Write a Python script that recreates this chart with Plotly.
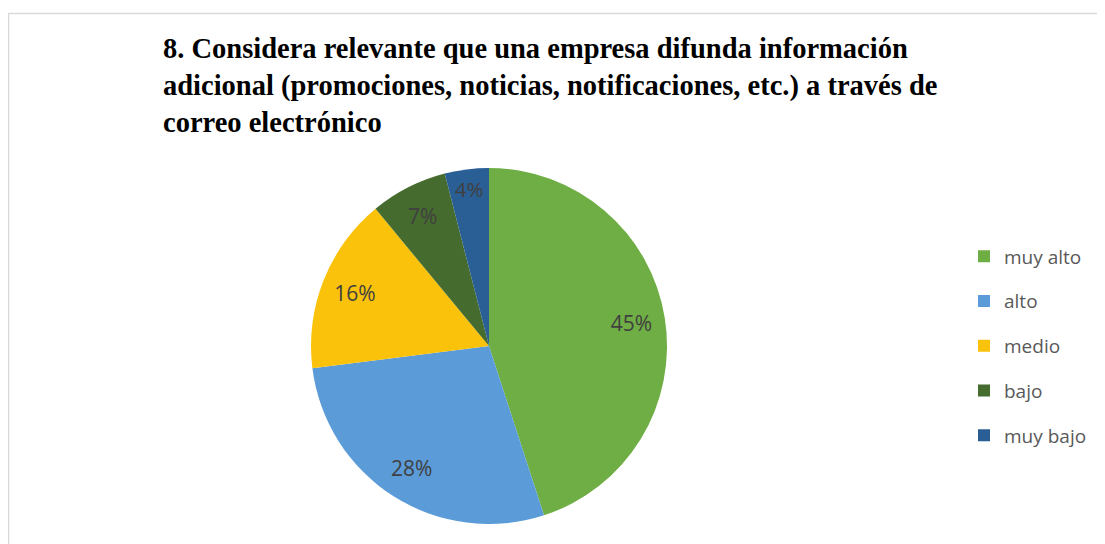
import plotly.graph_objects as go

# survey answers (percent of respondents)
categories = ["muy alto", "alto", "medio", "bajo", "muy bajo"]
values = [45, 28, 16, 7, 4]
colors = ["#6FAE45", "#5A9BD8", "#FAC20A", "#456C2E", "#2A5F95"]

title = (
    "<b>8. Considera relevante que una empresa difunda información<br>"
    "adicional (promociones, noticias, notificaciones, etc.) a través de<br>"
    "correo electrónico</b>"
)

W, H = 1105, 544
OFF = 8  # page body margin shifts the whole figure by 8px

def px_x(x):
    return (x - OFF) / W

def px_y(y):
    return 1 - (y - OFF) / H

pie_domain = dict(x=[px_x(311), px_x(667)], y=[px_y(524), px_y(168)])
label_font = dict(family="Open Sans, sans-serif", size=21, color="#404040")

fig = go.Figure()

# the coloured pie
fig.add_trace(
    go.Pie(
        labels=categories,
        values=values,
        sort=False,
        direction="clockwise",
        rotation=0,
        marker=dict(colors=colors, line=dict(width=0)),
        textinfo="none",
        domain=pie_domain,
        showlegend=False,
        hoverinfo="label+percent",
    )
)

# transparent ring on top, only to carry the percentage labels further out
fig.add_trace(
    go.Pie(
        labels=categories,
        values=values,
        sort=False,
        direction="clockwise",
        rotation=0,
        hole=0.62,
        marker=dict(colors=["rgba(0,0,0,0)"] * len(values), line=dict(width=0)),
        textinfo="percent",
        textposition="inside",
        insidetextorientation="horizontal",
        textfont=label_font,
        domain=pie_domain,
        showlegend=False,
        hoverinfo="skip",
    )
)

# legend entries (one group each so the gap between them can be set)
for name, c in zip(categories, colors):
    fig.add_trace(
        go.Scatter(
            x=[None],
            y=[None],
            mode="markers",
            name=name,
            legendgroup=name,
            marker=dict(symbol="square", size=13, color=c),
        )
    )

fig.update_layout(
    width=W,
    height=H,
    margin=dict(l=0, r=0, t=0, b=0),
    paper_bgcolor="white",
    plot_bgcolor="white",
    xaxis=dict(visible=False),
    yaxis=dict(visible=False),
    title=dict(
        text=title,
        x=px_x(163),
        xanchor="left",
        xref="container",
        y=px_y(58),
        yanchor="top",
        yref="container",
        font=dict(family="Liberation Serif, Times New Roman, serif", size=28.5, color="black"),
    ),
    legend=dict(
        x=px_x(964),
        xanchor="left",
        y=px_y(346),
        yanchor="middle",
        tracegroupgap=17,
        font=dict(family="Open Sans, sans-serif", size=19, color="#595959"),
        itemsizing="constant",
        bgcolor="rgba(0,0,0,0)",
    ),
    shapes=[
        dict(
            type="rect",
            xref="paper",
            yref="paper",
            x0=px_x(8.5),
            x1=1.02,
            y0=-0.05,
            y1=px_y(13.5),
            line=dict(color="#D9D9D9", width=1.5),
            fillcolor="rgba(0,0,0,0)",
            layer="below",
        )
    ],
)

fig.write_html("out.html")
